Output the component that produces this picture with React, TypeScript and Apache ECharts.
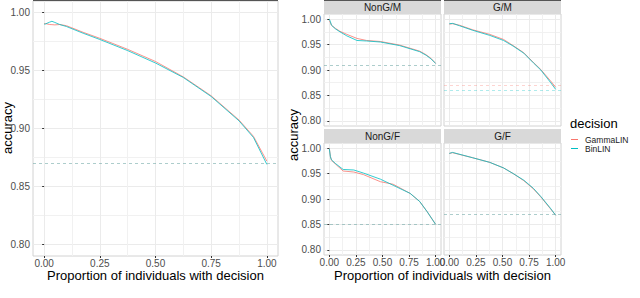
import React, { useEffect, useRef } from "react";
import * as echarts from "echarts";

// ---- data ----
const xTicks = [0, 0.25, 0.5, 0.75, 1];
const xMinor = [0.125, 0.375, 0.625, 0.875];
const yTicks = [0.8, 0.85, 0.9, 0.95, 1.0];
const yMinor = [0.825, 0.875, 0.925, 0.975];

const decisions = ["GammaLIN", "BinLIN"];
const facetNames = ["NonG/M", "G/M", "NonG/F", "G/F"];

const propAll = [0, 0.006, 0.025, 0.035, 0.048, 0.07, 0.1, 0.175, 0.25, 0.375, 0.5, 0.625, 0.75, 0.875, 0.94, 1.0];
const gammaAll = [0.9905, 0.9905, 0.9897, 0.9896, 0.9894, 0.9897, 0.9887, 0.983, 0.9778, 0.9683, 0.9578, 0.9445, 0.9282, 0.9073, 0.8932, 0.8718];
const binAll = [0.99, 0.9902, 0.9918, 0.9925, 0.9915, 0.9897, 0.988, 0.9822, 0.9768, 0.9672, 0.9565, 0.944, 0.9276, 0.9066, 0.8922, 0.869];

const propNGM = [0, 0.01, 0.02, 0.056, 0.1, 0.165, 0.26, 0.35, 0.48, 0.66, 0.85, 0.91, 0.955, 1.0];
const gammaNGM = [0.997, 0.993, 0.988, 0.982, 0.976, 0.97, 0.962, 0.958, 0.956, 0.949, 0.937, 0.93, 0.923, 0.913];
const binNGM = [1.0, 0.995, 0.988, 0.981, 0.975, 0.967, 0.958, 0.957, 0.955, 0.948, 0.936, 0.929, 0.922, 0.913];

const propGM = [0, 0.032, 0.095, 0.22, 0.38, 0.51, 0.6, 0.7, 0.79, 0.86, 0.95, 1.0];
const gammaGM = [0.99, 0.991, 0.988, 0.979, 0.97, 0.96, 0.948, 0.934, 0.915, 0.901, 0.879, 0.866];
const binGM = [0.991, 0.9915, 0.987, 0.978, 0.968, 0.958, 0.947, 0.933, 0.914, 0.9, 0.876, 0.862];

const propNGF = [0, 0.01, 0.02, 0.056, 0.13, 0.23, 0.32, 0.48, 0.6, 0.76, 0.85, 0.92, 1.0];
const gammaNGF = [1.0, 0.984, 0.976, 0.969, 0.955, 0.953, 0.948, 0.934, 0.929, 0.911, 0.895, 0.875, 0.85];
const binNGF = [0.999, 0.983, 0.977, 0.97, 0.958, 0.957, 0.951, 0.939, 0.927, 0.911, 0.895, 0.875, 0.85];

const propGF = [0, 0.03, 0.22, 0.38, 0.51, 0.6, 0.7, 0.79, 0.86, 0.95, 1.0];
const gammaGF = [0.9895, 0.991, 0.981, 0.972, 0.961, 0.95, 0.936, 0.92, 0.904, 0.881, 0.868];
const binGF = [0.9895, 0.9915, 0.981, 0.972, 0.961, 0.95, 0.937, 0.921, 0.905, 0.882, 0.868];

// baselines (dashed reference lines): overall, NonG/M, G/M, NonG/F, G/F
const baseGamma = [0.8695, 0.913, 0.866, 0.85, 0.868];
const baseBin = [0.8695, 0.913, 0.862, 0.85, 0.868];

const panelProps = [propAll, propNGM, propGM, propNGF, propGF];
const panelGamma = [gammaAll, gammaNGM, gammaGM, gammaNGF, gammaGF];
const panelBin = [binAll, binNGM, binGM, binNGF, binGF];

// ---- layout ----
const FONT = "Liberation Sans, Arial, Helvetica, sans-serif";
const COLORS = ["#F8766D", "#00BFC4"];
const layout = [
  { left: 33, top: 1, width: 245, height: 255, showX: true, showY: true },
  { left: 324, top: 14, width: 117, height: 112, showX: false, showY: true },
  { left: 444, top: 14, width: 117, height: 112, showX: false, showY: false },
  { left: 324, top: 143, width: 117, height: 112, showX: true, showY: true },
  { left: 444, top: 143, width: 117, height: 112, showX: true, showY: false },
];

function buildOption() {
  const grid: any[] = [];
  const xAxis: any[] = [];
  const yAxis: any[] = [];
  const series: any[] = [];
  layout.forEach((p, i) => {
    grid.push({
      left: p.left, top: p.top, width: p.width, height: p.height,
      show: true, borderColor: "#D2D2D2", borderWidth: 1, backgroundColor: "#FFFFFF",
    });
    const common = { type: "value", gridIndex: i, axisLine: { show: false } };
    xAxis.push({
      ...common, min: -0.05, max: 1.05, position: "bottom",
      axisTick: { show: p.showX, customValues: xTicks, length: 2, lineStyle: { color: "#333333" } },
      axisLabel: { show: p.showX, customValues: xTicks, formatter: (v: number) => v.toFixed(2), fontSize: 10, color: "#4D4D4D", margin: 2, fontFamily: FONT },
      splitLine: { show: true, lineStyle: { color: "#EBEBEB", width: 1 } },
    });
    xAxis.push({
      ...common, min: -0.05, max: 1.05, position: "top",
      axisTick: { show: false, customValues: xMinor },
      axisLabel: { show: false, customValues: xMinor },
      splitLine: { show: true, lineStyle: { color: "#F1F1F1", width: 1 } },
    });
    yAxis.push({
      ...common, min: 0.79, max: 1.01, position: "left",
      axisTick: { show: p.showY, customValues: yTicks, length: 2, lineStyle: { color: "#333333" } },
      axisLabel: { show: p.showY, customValues: yTicks, formatter: (v: number) => v.toFixed(2), fontSize: 10, color: "#4D4D4D", margin: 3, fontFamily: FONT },
      splitLine: { show: true, lineStyle: { color: "#EBEBEB", width: 1 } },
    });
    yAxis.push({
      ...common, min: 0.79, max: 1.01, position: "right",
      axisTick: { show: false, customValues: yMinor },
      axisLabel: { show: false, customValues: yMinor },
      splitLine: { show: true, lineStyle: { color: "#F1F1F1", width: 1 } },
    });
    const props = panelProps[i];
    const ys = [panelGamma[i], panelBin[i]];
    const bases = [baseGamma[i], baseBin[i]];
    decisions.forEach((d, k) => {
      series.push({
        name: d, type: "line", xAxisIndex: 2 * i, yAxisIndex: 2 * i,
        data: props.map((x, j) => [x, ys[k][j]]),
        symbol: "none", showSymbol: false, silent: true,
        lineStyle: { color: COLORS[k], width: 0.8 }, itemStyle: { color: COLORS[k] },
        z: 3 + k,
        markLine: {
          silent: true, symbol: "none", label: { show: false },
          lineStyle: { color: COLORS[k], type: [3, 3], width: 0.7, opacity: 0.45 },
          data: [{ yAxis: bases[k] }],
        },
      });
    });
  });

  const graphic: any[] = [];
  // top dark lines
  graphic.push({ type: "rect", shape: { x: 33, y: 0, width: 245, height: 1 }, style: { fill: "#555555" }, z: 100 });
  layout.slice(1).forEach((p, i) => {
    const sy = p.top - 14;
    graphic.push({ type: "rect", shape: { x: p.left, y: sy, width: p.width, height: 14 }, style: { fill: "#D9D9D9" } });
    graphic.push({
      type: "text", x: p.left + p.width / 2, y: sy + 7.5,
      style: { text: facetNames[i], fontSize: 10, fill: "#1A1A1A", align: "center", verticalAlign: "middle", fontFamily: FONT },
    });
    if (i < 2) graphic.push({ type: "rect", shape: { x: p.left, y: 0, width: p.width, height: 1 }, style: { fill: "#555555" }, z: 100 });
  });
  // axis titles
  graphic.push({ type: "text", x: 155.5, y: 275, style: { text: "Proportion of individuals with decision", fontSize: 13, fill: "#000", align: "center", verticalAlign: "middle", fontFamily: FONT } });
  graphic.push({ type: "text", x: 442.5, y: 275, style: { text: "Proportion of individuals with decision", fontSize: 13, fill: "#000", align: "center", verticalAlign: "middle", fontFamily: FONT } });
  graphic.push({ type: "text", x: 7, y: 128, rotation: Math.PI / 2, style: { text: "accuracy", fontSize: 13, fill: "#000", align: "center", verticalAlign: "middle", fontFamily: FONT } });
  graphic.push({ type: "text", x: 293.5, y: 135, rotation: Math.PI / 2, style: { text: "accuracy", fontSize: 13, fill: "#000", align: "center", verticalAlign: "middle", fontFamily: FONT } });
  // legend
  graphic.push({ type: "text", x: 570, y: 123, style: { text: "decision", fontSize: 13, fill: "#000", align: "left", verticalAlign: "middle", fontFamily: FONT } });
  decisions.forEach((d, k) => {
    const y = 139.5 + k * 9;
    graphic.push({ type: "line", shape: { x1: 571, y1: y, x2: 578, y2: y }, style: { stroke: COLORS[k], lineWidth: 1 } });
    graphic.push({ type: "text", x: 585, y, style: { text: d, fontSize: 8.5, fill: "#1A1A1A", align: "left", verticalAlign: "middle", fontFamily: FONT } });
  });

  return { animation: false, backgroundColor: "#FFFFFF", grid, xAxis, yAxis, series, graphic };
}

export default function App() {
  const ref = useRef<HTMLDivElement>(null);
  useEffect(() => {
    if (!ref.current) return;
    const chart = echarts.init(ref.current, undefined, { renderer: "svg" });
    chart.setOption(buildOption() as any);
    return () => chart.dispose();
  }, []);
  return <div ref={ref} style={{ position: "fixed", left: 0, top: 0, width: 640, height: 298 }} />;
}
